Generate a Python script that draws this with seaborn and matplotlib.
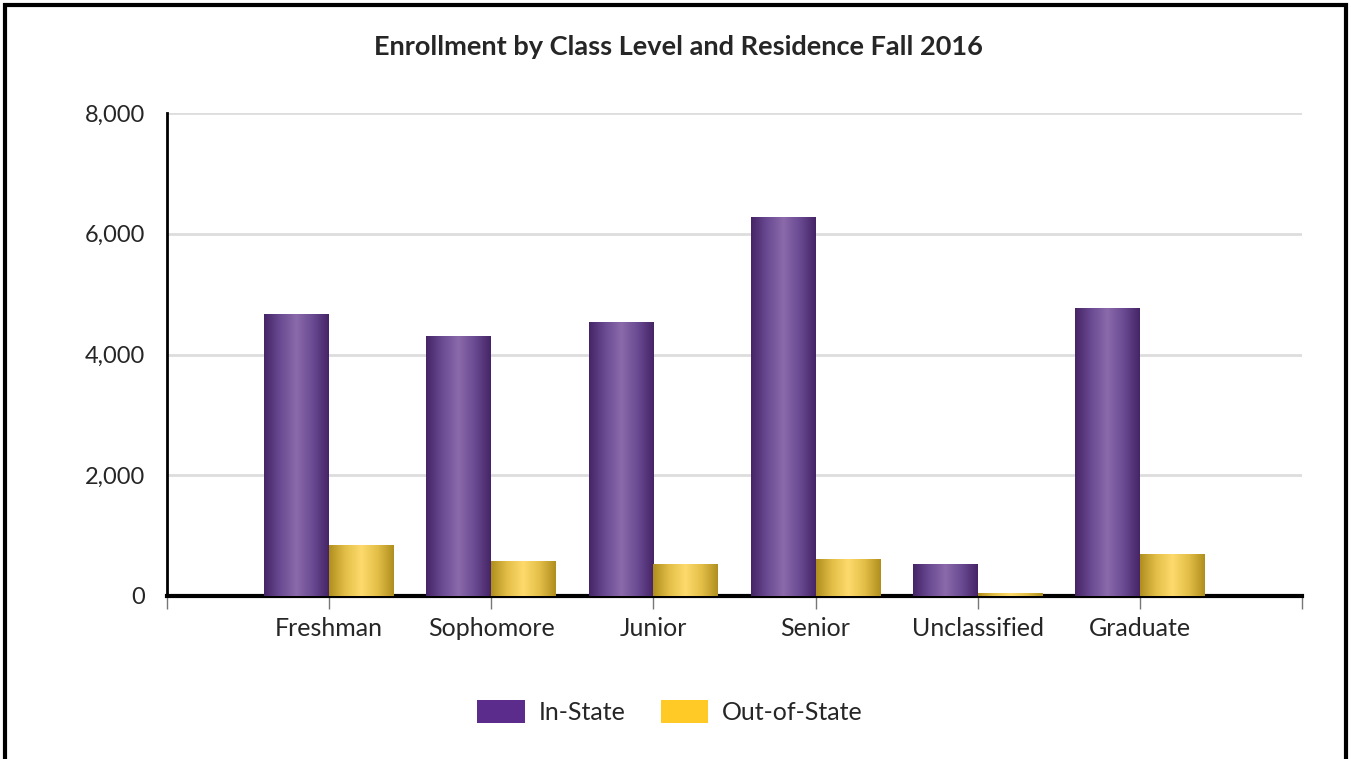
import matplotlib
matplotlib.use("Agg")
import matplotlib.pyplot as plt
import numpy as np
import pandas as pd
import seaborn as sns
from matplotlib.colors import LinearSegmentedColormap
from matplotlib.patches import Rectangle, Patch
from matplotlib.ticker import FuncFormatter

# %% DATA
class_levels = ["Freshman", "Sophomore", "Junior", "Senior", "Unclassified", "Graduate"]
in_state = [4670, 4305, 4540, 6285, 530, 4770]
out_of_state = [845, 580, 530, 615, 55, 695]
series_names = ["In-State", "Out-of-State"]

df = pd.DataFrame(
    {
        "level": class_levels * 2,
        "residence": [series_names[0]] * len(class_levels) + [series_names[1]] * len(class_levels),
        "count": in_state + out_of_state,
    }
)

# %% STYLE
sns.set_theme(style="white")
plt.rcParams["font.family"] = ["Lato", "DejaVu Sans"]

solid = {"In-State": "#5b2c8c", "Out-of-State": "#ffc926"}
shade = {
    "In-State": LinearSegmentedColormap.from_list(
        "purp", ["#452466", "#6a4a92", "#8a6aaa", "#6a4a92", "#452466"]
    ),
    "Out-of-State": LinearSegmentedColormap.from_list(
        "gold", ["#b08e1e", "#e3bf48", "#fdda6c", "#e3bf48", "#b08e1e"]
    ),
}

# %% PLOT
fig = plt.figure(figsize=(13.51, 7.59), dpi=100)
ax = fig.add_axes([167 / 1351, 1 - 596 / 759, (1302 - 167) / 1351, (596 - 113) / 759])

sns.barplot(
    data=df, x="level", y="count", hue="residence", palette=solid,
    width=0.8, ax=ax, legend=False, linewidth=0, saturation=1,
)

# cylinder-like shading on each bar
grad = np.linspace(0, 1, 256).reshape(1, -1)
n = len(class_levels)
for i, bar in enumerate(ax.patches[: 2 * n]):
    name = series_names[i // n]
    bar.set_zorder(3)
    x0, y0 = bar.get_x(), bar.get_y()
    w, h = bar.get_width(), bar.get_height()
    im = ax.imshow(grad, cmap=shade[name], aspect="auto",
                   extent=[x0, x0 + w, y0, y0 + h], zorder=3.1)
    im.set_clip_path(bar)

ax.set_xlim(-1, n)
ax.set_ylim(0, 8000)
ax.set_xticks(range(-1, n + 1))
ax.set_xticklabels([""] + class_levels + [""], fontsize=18)
ax.set_yticks(range(0, 8001, 2000))
ax.yaxis.set_major_formatter(FuncFormatter(lambda v, p: f"{int(v):,}"))
ax.tick_params(axis="y", labelsize=17, length=12, width=1.5, color="#999999", pad=4)
ax.tick_params(axis="x", length=9, width=1, color="#777777", pad=6, bottom=True)
ax.set_xlabel("")
ax.set_ylabel("")
ax.grid(axis="y", color="#dddddd", linewidth=2)
ax.set_axisbelow(True)
for s in ["top", "right"]:
    ax.spines[s].set_visible(False)
ax.spines["left"].set_linewidth(2)
ax.spines["left"].set_color("black")
ax.spines["bottom"].set_linewidth(3)
ax.spines["bottom"].set_color("black")
ax.spines["bottom"].set_zorder(2.5)

fig.text(678 / 1351, 1 - 47 / 759, "Enrollment by Class Level and Residence Fall 2016",
         ha="center", va="center", fontsize=19.5, fontweight="bold")

handles = [Patch(facecolor=solid[s], edgecolor="none") for s in series_names]
fig.legend(handles, series_names, loc="center", bbox_to_anchor=(670 / 1351, 1 - 712 / 759),
           ncol=2, frameon=False, fontsize=18, handlelength=1.9, handleheight=1.0,
           columnspacing=1.4, handletextpad=0.55)

# outer frame
fig.patches.append(Rectangle((5 / 1351, -0.05), (1346 - 5) / 1351, 1.05 - 5 / 759,
                             transform=fig.transFigure, fill=False,
                             edgecolor="black", linewidth=3))

fig.savefig("out.png", dpi=100, facecolor="white")
